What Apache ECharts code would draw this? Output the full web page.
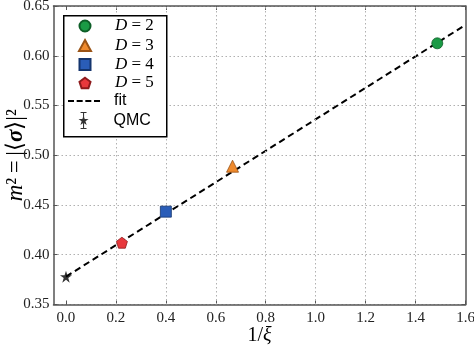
<!DOCTYPE html>
<html><head><meta charset="utf-8">
<script src="https://cdn.jsdelivr.net/npm/echarts@6/dist/echarts.min.js"></script>
<style>html,body{margin:0;padding:0;background:#fff}#c{width:474px;height:345px}</style>
</head><body><div id="c"></div>
<script>
// ---- data ----
const seriesNames = ['D2', 'D3', 'D4', 'D5'];
const seriesLabels = ['2', '3', '4', '5'];
const invXi = [1.487, 0.667, 0.40, 0.224];
const m2 = [0.6125, 0.489, 0.4433, 0.4121];
const qmcX = [0.0];
const qmcY = [0.378];
const fitX = [0.0, 1.6];
const fitY = [0.378, 0.631];
const xTicks = [0, 0.2, 0.4, 0.6, 0.8, 1.0, 1.2, 1.4, 1.6];
const yTicks = [0.35, 0.40, 0.45, 0.50, 0.55, 0.60, 0.65];

const fills = ['#1a9a45', '#ef8a2d', '#2a5db8', '#e8383c'];
const edges = ['#0d5e27', '#9a5315', '#14356e', '#8e1a1c'];
const sizes = [11, 12, 11, 11];
const PENT = 'path://M50 0 L97.6 34.5 L79.4 90.5 L20.6 90.5 L2.4 34.5 Z';
const STAR = 'path://M50 0 L61.17 34.63 L97.55 34.55 L68.07 55.87 L79.39 90.45 L50 69 L20.61 90.45 L31.93 55.87 L2.45 34.55 L38.83 34.63 Z';
const STARBAR = 'path://M50 32 L61.17 66.63 L97.55 66.55 L68.07 87.87 L79.39 122.45 L50 101 L20.61 122.45 L31.93 87.87 L2.45 66.55 L38.83 66.63 Z ' +
  'M45 0 L55 0 L55 160 L45 160 Z M22 0 L78 0 L78 9 L22 9 Z M22 151 L78 151 L78 160 L22 160 Z';
const DASHES = 'path://M0 0 L6 0 L6 2 L0 2 Z M8.67 0 L14.67 0 L14.67 2 L8.67 2 Z M17.33 0 L23.33 0 L23.33 2 L17.33 2 Z M26 0 L32 0 L32 2 L26 2 Z';
const symbols = ['circle', 'triangle', 'rect', PENT];

const serif = 'Liberation Serif';
const sans = 'Liberation Sans';

const series = seriesNames.map((n, i) => ({
  name: n, type: 'scatter', xAxisIndex: 0, yAxisIndex: 0,
  symbol: symbols[i], symbolSize: sizes[i], z: 5,
  itemStyle: { color: fills[i], borderColor: edges[i], borderWidth: 0.8, opacity: 1 },
  data: [[invXi[i], m2[i]]]
}));
series.push({
  name: 'fit', type: 'line', symbol: 'none', xAxisIndex: 0, yAxisIndex: 0, z: 4,
  color: '#000',
  lineStyle: { color: '#000', width: 2, type: [6.5, 4] },
  data: fitX.map((x, i) => [x, fitY[i]]),
  markLine: {
    silent: true, symbol: 'none', label: { show: false }, animation: false,
    lineStyle: { color: '#b0b0b0', type: [1.5, 2.5], width: 1 },
    data: xTicks.filter(v => v > 0 && v < 1.6).map(v => ({ xAxis: v }))
  }
});
series.push({
  name: 'QMC', type: 'scatter', symbol: STAR, symbolSize: 12, z: 6,
  itemStyle: { color: '#000' },
  data: qmcX.map((x, i) => [x, qmcY[i]])
});

const labelMap = {};
seriesNames.forEach((n, i) => labelMap[n] = '{i|D}{t| = ' + seriesLabels[i] + '}');
labelMap['fit'] = '{s|fit}';
labelMap['QMC'] = '{s|QMC}';
const richBase = {
  i: { fontFamily: serif, fontStyle: 'italic', fontSize: 17, color: '#000', lineHeight: 20 },
  t: { fontFamily: serif, fontSize: 17, color: '#000', lineHeight: 20 },
  s: { fontFamily: sans, fontSize: 16, color: '#000', lineHeight: 20 }
};

// legend rows: centre y of each row, icon centre x 84, text starts at x 114
const legendNames = seriesNames.concat(['fit', 'QMC']);
const legendRowY = [26, 45.5, 64.5, 83, 101, 120.5];
const iconW = { D2: 11, D3: 12, D4: 11, D5: 11, fit: 32, QMC: 11 };
const iconH = { D2: 11, D3: 11, D4: 11, D5: 11, fit: 2, QMC: 17 };
const legendIcons = { fit: DASHES, QMC: STARBAR };
const ICON_CX = 84, TEXT_X = 114;
const legends = legendNames.map((n, k) => {
  const item = { name: n };
  if (legendIcons[n]) { item.icon = legendIcons[n]; item.itemStyle = { color: '#000', borderWidth: 0 }; }
  const w = iconW[n];
  const left = ICON_CX - w / 2;
  const sp = TEXT_X - (left + w + 5);
  const rich = Object.assign({ sp: { width: sp, lineHeight: 20 } }, richBase);
  return {
    z: 101, orient: 'vertical', left: left, top: legendRowY[k] - 10, padding: 0,
    itemWidth: w, itemHeight: iconH[n], itemGap: 0,
    selectedMode: false,
    data: [item],
    formatter: nm => '{sp|}' + labelMap[nm],
    textStyle: { rich: rich, lineHeight: 20 }
  };
});

const axisLineStyle = { color: '#555', width: 1.5 };
const tickStyle = { color: '#555', width: 1 };

const option = {
  animation: false,
  backgroundColor: '#fff',
  grid: { left: 53.5, right: 8.5, top: 6, bottom: 40.5, containLabel: false, outerBoundsMode: 'none' },
  graphic: [{
    type: 'rect', left: 63, top: 15, z: 100,
    shape: { width: 103, height: 121 },
    style: { fill: '#fff', stroke: '#000', lineWidth: 1.5 }
  }],
  legend: legends,
  xAxis: [{
    type: 'value', min: -0.05, max: 1.6, position: 'bottom',
    axisLine: { show: true, onZero: false, lineStyle: axisLineStyle },
    axisTick: { show: true, inside: true, length: 4, lineStyle: tickStyle, customValues: xTicks },
    axisLabel: { customValues: xTicks, margin: 6, fontFamily: serif, fontSize: 15, color: '#222',
      formatter: v => v.toFixed(1) },
    splitLine: { show: false },
    name: '{a|1/}{b|ξ}', nameLocation: 'middle', nameGap: 21, nameMoveOverlap: false,
    nameTextStyle: { rich: {
      a: { fontFamily: serif, fontSize: 20, color: '#000' },
      b: { fontFamily: serif, fontStyle: 'italic', fontSize: 20, color: '#000' } } }
  }, {
    type: 'value', min: -0.05, max: 1.6, position: 'top',
    axisLine: { show: true, onZero: false, lineStyle: axisLineStyle },
    axisTick: { show: true, inside: true, length: 4, lineStyle: tickStyle, customValues: xTicks },
    axisLabel: { show: false }, splitLine: { show: false }
  }],
  yAxis: [{
    type: 'value', min: 0.35, max: 0.65, interval: 0.05, position: 'left',
    axisLine: { show: true, onZero: false, lineStyle: axisLineStyle },
    axisTick: { show: true, inside: true, length: 4, lineStyle: tickStyle },
    axisLabel: { margin: 4, fontFamily: serif, fontSize: 15, color: '#222',
      formatter: v => v.toFixed(2) },
    splitLine: { show: true, lineStyle: { color: '#b0b0b0', type: [1.5, 2.5], width: 1 } },
    name: '{m|m}{p|²}{t|\u2009=\u2009|⟨}{s|σ}{t|⟩|}{p|²}', nameLocation: 'middle', nameGap: 26,
    nameRotate: 90, nameMoveOverlap: false,
    nameTextStyle: { rich: {
      m: { fontFamily: serif, fontStyle: 'italic', fontSize: 23, color: '#000' },
      p: { fontFamily: serif, fontSize: 23, color: '#000' },
      t: { fontFamily: serif, fontSize: 23, color: '#000' },
      s: { fontFamily: serif, fontStyle: 'italic', fontWeight: 'bold', fontSize: 23, color: '#000' } } }
  }, {
    type: 'value', min: 0.35, max: 0.65, interval: 0.05, position: 'right',
    axisLine: { show: true, onZero: false, lineStyle: axisLineStyle },
    axisTick: { show: true, inside: true, length: 4, lineStyle: tickStyle },
    axisLabel: { show: false }, splitLine: { show: false }
  }],
  series: series
};
const chart = echarts.init(document.getElementById('c'), null, { renderer: 'canvas' });
chart.setOption(option);
</script></body></html>
